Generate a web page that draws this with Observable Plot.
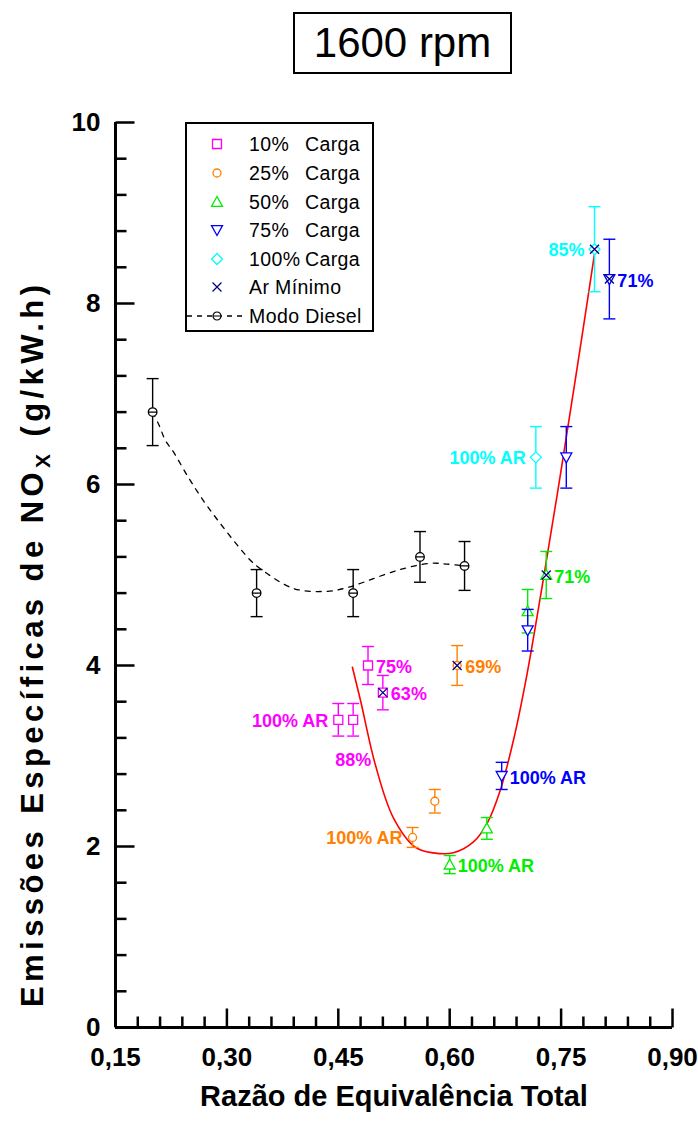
<!DOCTYPE html>
<html><head><meta charset="utf-8">
<script src="https://cdn.jsdelivr.net/npm/d3@7"></script>
<script src="https://cdn.jsdelivr.net/npm/@observablehq/plot@0.6"></script>
<style>
body{margin:0;background:#fff;}
#wrap{position:relative;width:698px;height:1128px;font-family:"Liberation Sans",Arial,sans-serif;}
#chart{position:absolute;left:0;top:0;}
#title{position:absolute;left:293px;top:12px;width:215px;height:58px;border:2px solid #000;display:flex;align-items:center;justify-content:center;font-size:42px;background:#fff;}
#legend{position:absolute;left:185px;top:122px;width:185px;height:206px;border:2px solid #000;background:#fff;}
</style></head><body>
<div id="wrap"><div id="chart"></div><div id="title">1600 rpm</div><div id="legend"></div></div>
<script>
// ---------- DATA ----------
const titleText = "1600 rpm";
const xLabel = "Razão de Equivalência Total";
const xMajor = [0.15, 0.30, 0.45, 0.60, 0.75, 0.90];
const yMajor = [0, 2, 4, 6, 8, 10];

const carga10X = [0.45, 0.47, 0.49, 0.51];
const carga10Y = [3.4, 3.4, 4.0, 3.7];
const carga10E = [0.18, 0.18, 0.21, 0.19];

const carga25X = [0.55, 0.58, 0.61];
const carga25Y = [2.1, 2.5, 4.0];
const carga25E = [0.11, 0.13, 0.22];

const carga50X = [0.60, 0.65, 0.705, 0.73];
const carga50Y = [1.8, 2.2, 4.6, 5.0];
const carga50E = [0.10, 0.12, 0.24, 0.26];

const carga75X = [0.67, 0.705, 0.757, 0.815];
const carga75Y = [2.78, 4.39, 6.3, 8.27];
const carga75E = [0.15, 0.23, 0.34, 0.44];

const carga100X = [0.716, 0.795];
const carga100Y = [6.3, 8.6];
const carga100E = [0.34, 0.47];

const arMinX = [0.51, 0.61, 0.73, 0.795, 0.815];
const arMinY = [3.7, 4.0, 5.0, 8.6, 8.27];

const dieselX = [0.20, 0.34, 0.47, 0.56, 0.62];
const dieselY = [6.8, 4.8, 4.8, 5.2, 5.1];
const dieselE = [0.37, 0.26, 0.26, 0.28, 0.27];

// dashed diesel trend
const dieselCurveX = [0.20, 0.209, 0.217, 0.228, 0.248, 0.2685, 0.291, 0.314, 0.332, 0.345, 0.39, 0.435, 0.462, 0.484, 0.529, 0.574, 0.597, 0.62];
const dieselCurveY = [6.8, 6.65, 6.49, 6.36, 6.08, 5.82, 5.57, 5.33, 5.16, 5.07, 4.85, 4.82, 4.86, 4.92, 5.05, 5.13, 5.12, 5.1];

// red fit curve
const fitX = [0.469, 0.48, 0.50, 0.524, 0.554, 0.578, 0.605, 0.632, 0.65, 0.668, 0.686, 0.704, 0.726, 0.745, 0.76, 0.778, 0.795];
const fitY = [3.98, 3.61, 2.90, 2.32, 1.99, 1.93, 1.93, 2.05, 2.25, 2.62, 3.18, 3.90, 4.95, 5.90, 6.68, 7.63, 8.55];

const annText   = ["100% AR", "88%", "75%", "63%", "100% AR", "69%", "100% AR", "71%", "100% AR", "71%", "100% AR", "85%"];
const annX      = [0.45, 0.47, 0.49, 0.51, 0.55, 0.61, 0.60, 0.73, 0.67, 0.815, 0.716, 0.795];
const annY      = [3.4, 3.4, 4.0, 3.7, 2.1, 4.0, 1.8, 5.0, 2.78, 8.27, 6.3, 8.6];
const annSeries = ["10%", "10%", "10%", "10%", "25%", "25%", "50%", "50%", "75%", "75%", "100%", "100%"];

const legendPct = ["10%", "25%", "50%", "75%", "100%"];
const legendWord = "Carga";
const legendArMin = "Ar Mínimo";
const legendDiesel = "Modo Diesel";

// ---------- STYLE ----------
const colors = {"10%": "#ff00ff", "25%": "#ff8000", "50%": "#00ee00", "75%": "#0000ff", "100%": "#00ffff", ar: "#000080", diesel: "#000000", fit: "#ff0000"};
const annPlace = ["left", "below", "right", "right", "left", "right", "right", "right", "right", "right", "left", "left"];

function sym(fn) { return {draw(ctx, size) { fn(ctx, Math.sqrt(size / Math.PI)); }}; }
const S = {
  square: sym((c, h) => { c.moveTo(-h, -h); c.lineTo(h, -h); c.lineTo(h, h); c.lineTo(-h, h); c.closePath(); }),
  circle: sym((c, h) => { c.moveTo(h, 0); c.arc(0, 0, h, 0, 2 * Math.PI); }),
  triUp: sym((c, h) => { c.moveTo(0, -h); c.lineTo(h, h * 0.8); c.lineTo(-h, h * 0.8); c.closePath(); }),
  triDown: sym((c, h) => { c.moveTo(0, h); c.lineTo(h, -h * 0.8); c.lineTo(-h, -h * 0.8); c.closePath(); }),
  diamond: sym((c, h) => { c.moveTo(0, -h); c.lineTo(h, 0); c.lineTo(0, h); c.lineTo(-h, 0); c.closePath(); }),
  times: sym((c, h) => { c.moveTo(-h, -h); c.lineTo(h, h); c.moveTo(-h, h); c.lineTo(h, -h); }),
  diesel: sym((c, h) => { c.moveTo(h, 0); c.arc(0, 0, h, 0, 2 * Math.PI); c.moveTo(-h, 0); c.lineTo(h, 0); }),
  cap: sym((c, h) => { c.moveTo(-h, 0); c.lineTo(h, 0); }),
  vtick: sym((c, h) => { c.moveTo(0, 0); c.lineTo(0, -h); }),
  htick: sym((c, h) => { c.moveTo(0, 0); c.lineTo(h, 0); })
};

function rows(xs, ys, es) { return xs.map((x, i) => ({x, y: ys[i], e: es ? es[i] : 0})); }
const series = [
  {key: "10%", data: rows(carga10X, carga10Y, carga10E), symbol: S.square, r: 4.5},
  {key: "25%", data: rows(carga25X, carga25Y, carga25E), symbol: S.circle, r: 4},
  {key: "50%", data: rows(carga50X, carga50Y, carga50E), symbol: S.triUp, r: 5.5},
  {key: "75%", data: rows(carga75X, carga75Y, carga75E), symbol: S.triDown, r: 5.5},
  {key: "100%", data: rows(carga100X, carga100Y, carga100E), symbol: S.diamond, r: 5.5}
];
const diesel = rows(dieselX, dieselY, dieselE);

const eps = 1e-6;
const xMinor = d3.range(0.15, 0.9 + eps, 0.03).map(v => +v.toFixed(2)).filter(v => !xMajor.some(m => Math.abs(m - v) < eps));
const yMinor = d3.range(0, 10 + eps, 0.4).map(v => +v.toFixed(1)).filter(v => !yMajor.some(m => Math.abs(m - v) < eps));

function errMarks(data, color, symbolDef) {
  return [
    Plot.ruleX(data, {x: "x", y1: d => d.y - d.e, y2: d => d.y + d.e, stroke: color, strokeWidth: 1.4}),
    Plot.dot(data, {x: "x", y: d => d.y - d.e, symbol: S.cap, r: 6, stroke: color, strokeWidth: 1.4}),
    Plot.dot(data, {x: "x", y: d => d.y + d.e, symbol: S.cap, r: 6, stroke: color, strokeWidth: 1.4}),
    Plot.dot(data, {x: "x", y: "y", symbol: symbolDef.symbol, r: symbolDef.r, stroke: color, fill: "white", strokeWidth: 1.3})
  ];
}

const ann = annText.map((t, i) => ({text: t, x: annX[i], y: annY[i], color: colors[annSeries[i]], place: annPlace[i]}));
const font = "Liberation Sans, Arial, sans-serif";

const chart = Plot.plot({
  width: 698, height: 1128,
  marginLeft: 115, marginRight: 26, marginTop: 122, marginBottom: 101,
  x: {domain: [0.15, 0.90]},
  y: {domain: [0, 10]},
  style: {fontFamily: font, background: "white", overflow: "visible"},
  marks: [
    Plot.line(dieselCurveX.map((x, i) => ({x, y: dieselCurveY[i]})), {x: "x", y: "y", curve: "catmull-rom", stroke: "#000", strokeWidth: 1.3, strokeDasharray: "5,6"}),
    Plot.line(fitX.map((x, i) => ({x, y: fitY[i]})), {x: "x", y: "y", curve: "catmull-rom", stroke: colors.fit, strokeWidth: 1.6}),
    ...errMarks(diesel, colors.diesel, {symbol: S.diesel, r: 4.3}),
    ...series.flatMap(s => errMarks(s.data, colors[s.key], s)),
    Plot.dot(rows(arMinX, arMinY), {x: "x", y: "y", symbol: S.times, r: 4.5, stroke: colors.ar, strokeWidth: 1.3}),
    Plot.text(ann.filter(d => d.place === "left"), {x: "x", y: "y", text: "text", fill: "color", textAnchor: "end", dx: -10, dy: 1, fontSize: 18, fontWeight: "bold"}),
    Plot.text(ann.filter(d => d.place === "right"), {x: "x", y: "y", text: "text", fill: "color", textAnchor: "start", dx: 8, dy: 2, fontSize: 18, fontWeight: "bold"}),
    Plot.text(ann.filter(d => d.place === "below"), {x: "x", y: "y", text: "text", fill: "color", textAnchor: "middle", dy: 40, fontSize: 18, fontWeight: "bold"}),
    Plot.ruleX([0.15], {stroke: "#000", strokeWidth: 3}),
    Plot.ruleY([0], {stroke: "#000", strokeWidth: 3}),
    Plot.dot(xMinor, {x: d => d, frameAnchor: "bottom", symbol: S.vtick, r: 11, stroke: "#000", strokeWidth: 2.5}),
    Plot.dot(xMajor, {x: d => d, frameAnchor: "bottom", symbol: S.vtick, r: 19, stroke: "#000", strokeWidth: 2.5}),
    Plot.dot(yMinor, {y: d => d, frameAnchor: "left", symbol: S.htick, r: 11, stroke: "#000", strokeWidth: 2.5}),
    Plot.dot(yMajor, {y: d => d, frameAnchor: "left", symbol: S.htick, r: 19, stroke: "#000", strokeWidth: 2.5}),
    Plot.axisX({ticks: xMajor, tickSize: 0, tickPadding: 20, tickFormat: d => d.toFixed(2).replace(".", ","), fontSize: 26, fontWeight: "bold", label: null}),
    Plot.axisY({ticks: yMajor, tickSize: 0, tickPadding: 15, tickFormat: d => String(d), fontSize: 26, fontWeight: "bold", label: null}),
    Plot.text([xLabel], {text: d => d, frameAnchor: "bottom", dy: 78, fontSize: 29, fontWeight: "bold", fill: "#000"})
  ]
});
document.getElementById("chart").appendChild(chart);

// y label with subscript
const svg = d3.select(chart);
const yl = svg.append("text")
  .attr("transform", "translate(43,646) rotate(-90)")
  .attr("text-anchor", "middle")
  .attr("textLength", 722).attr("lengthAdjust", "spacing")
  .attr("font-family", font).attr("font-weight", "bold").attr("font-size", 31).attr("fill", "#000");
yl.append("tspan").text("Emissões Específicas de NO");
yl.append("tspan").attr("font-size", 21).attr("dy", 7).text("X");
yl.append("tspan").attr("dy", -7).text(" (g/kW.h)");

document.getElementById("title").textContent = titleText;

// legend
const lg = d3.select("#legend").append("svg").attr("width", 185).attr("height", 206)
  .style("font-family", font).style("font-size", "19.5px").style("letter-spacing", "0.4px");
const rowY = [20, 49, 78, 106, 135, 163, 192];
const legendSyms = [S.square, S.circle, S.triUp, S.triDown, S.diamond];
const legendR = [4.5, 4, 5.5, 5.5, 5.5];
legendPct.forEach((p, i) => {
  lg.append("path").attr("transform", `translate(30,${rowY[i]})`)
    .attr("d", d3.symbol(legendSyms[i], Math.PI * legendR[i] * legendR[i])())
    .attr("fill", "white").attr("stroke", colors[p]).attr("stroke-width", 1.3);
  lg.append("text").attr("x", 62).attr("y", rowY[i]).attr("dy", "0.35em").text(p);
  lg.append("text").attr("x", 118).attr("y", rowY[i]).attr("dy", "0.35em").text(legendWord);
});
lg.append("path").attr("transform", `translate(30,${rowY[5]})`)
  .attr("d", d3.symbol(S.times, Math.PI * 20)()).attr("fill", "none").attr("stroke", colors.ar).attr("stroke-width", 1.2);
lg.append("text").attr("x", 62).attr("y", rowY[5]).attr("dy", "0.35em").text(legendArMin);
lg.append("line").attr("x1", 0).attr("x2", 58).attr("y1", rowY[6]).attr("y2", rowY[6])
  .attr("stroke", "#000").attr("stroke-width", 1.3).attr("stroke-dasharray", "5,5");
lg.append("path").attr("transform", `translate(30,${rowY[6]})`)
  .attr("d", d3.symbol(S.diesel, Math.PI * 16)()).attr("fill", "white").attr("stroke", "#000").attr("stroke-width", 1.2);
lg.append("text").attr("x", 62).attr("y", rowY[6]).attr("dy", "0.35em").text(legendDiesel);
</script>
</body></html>
